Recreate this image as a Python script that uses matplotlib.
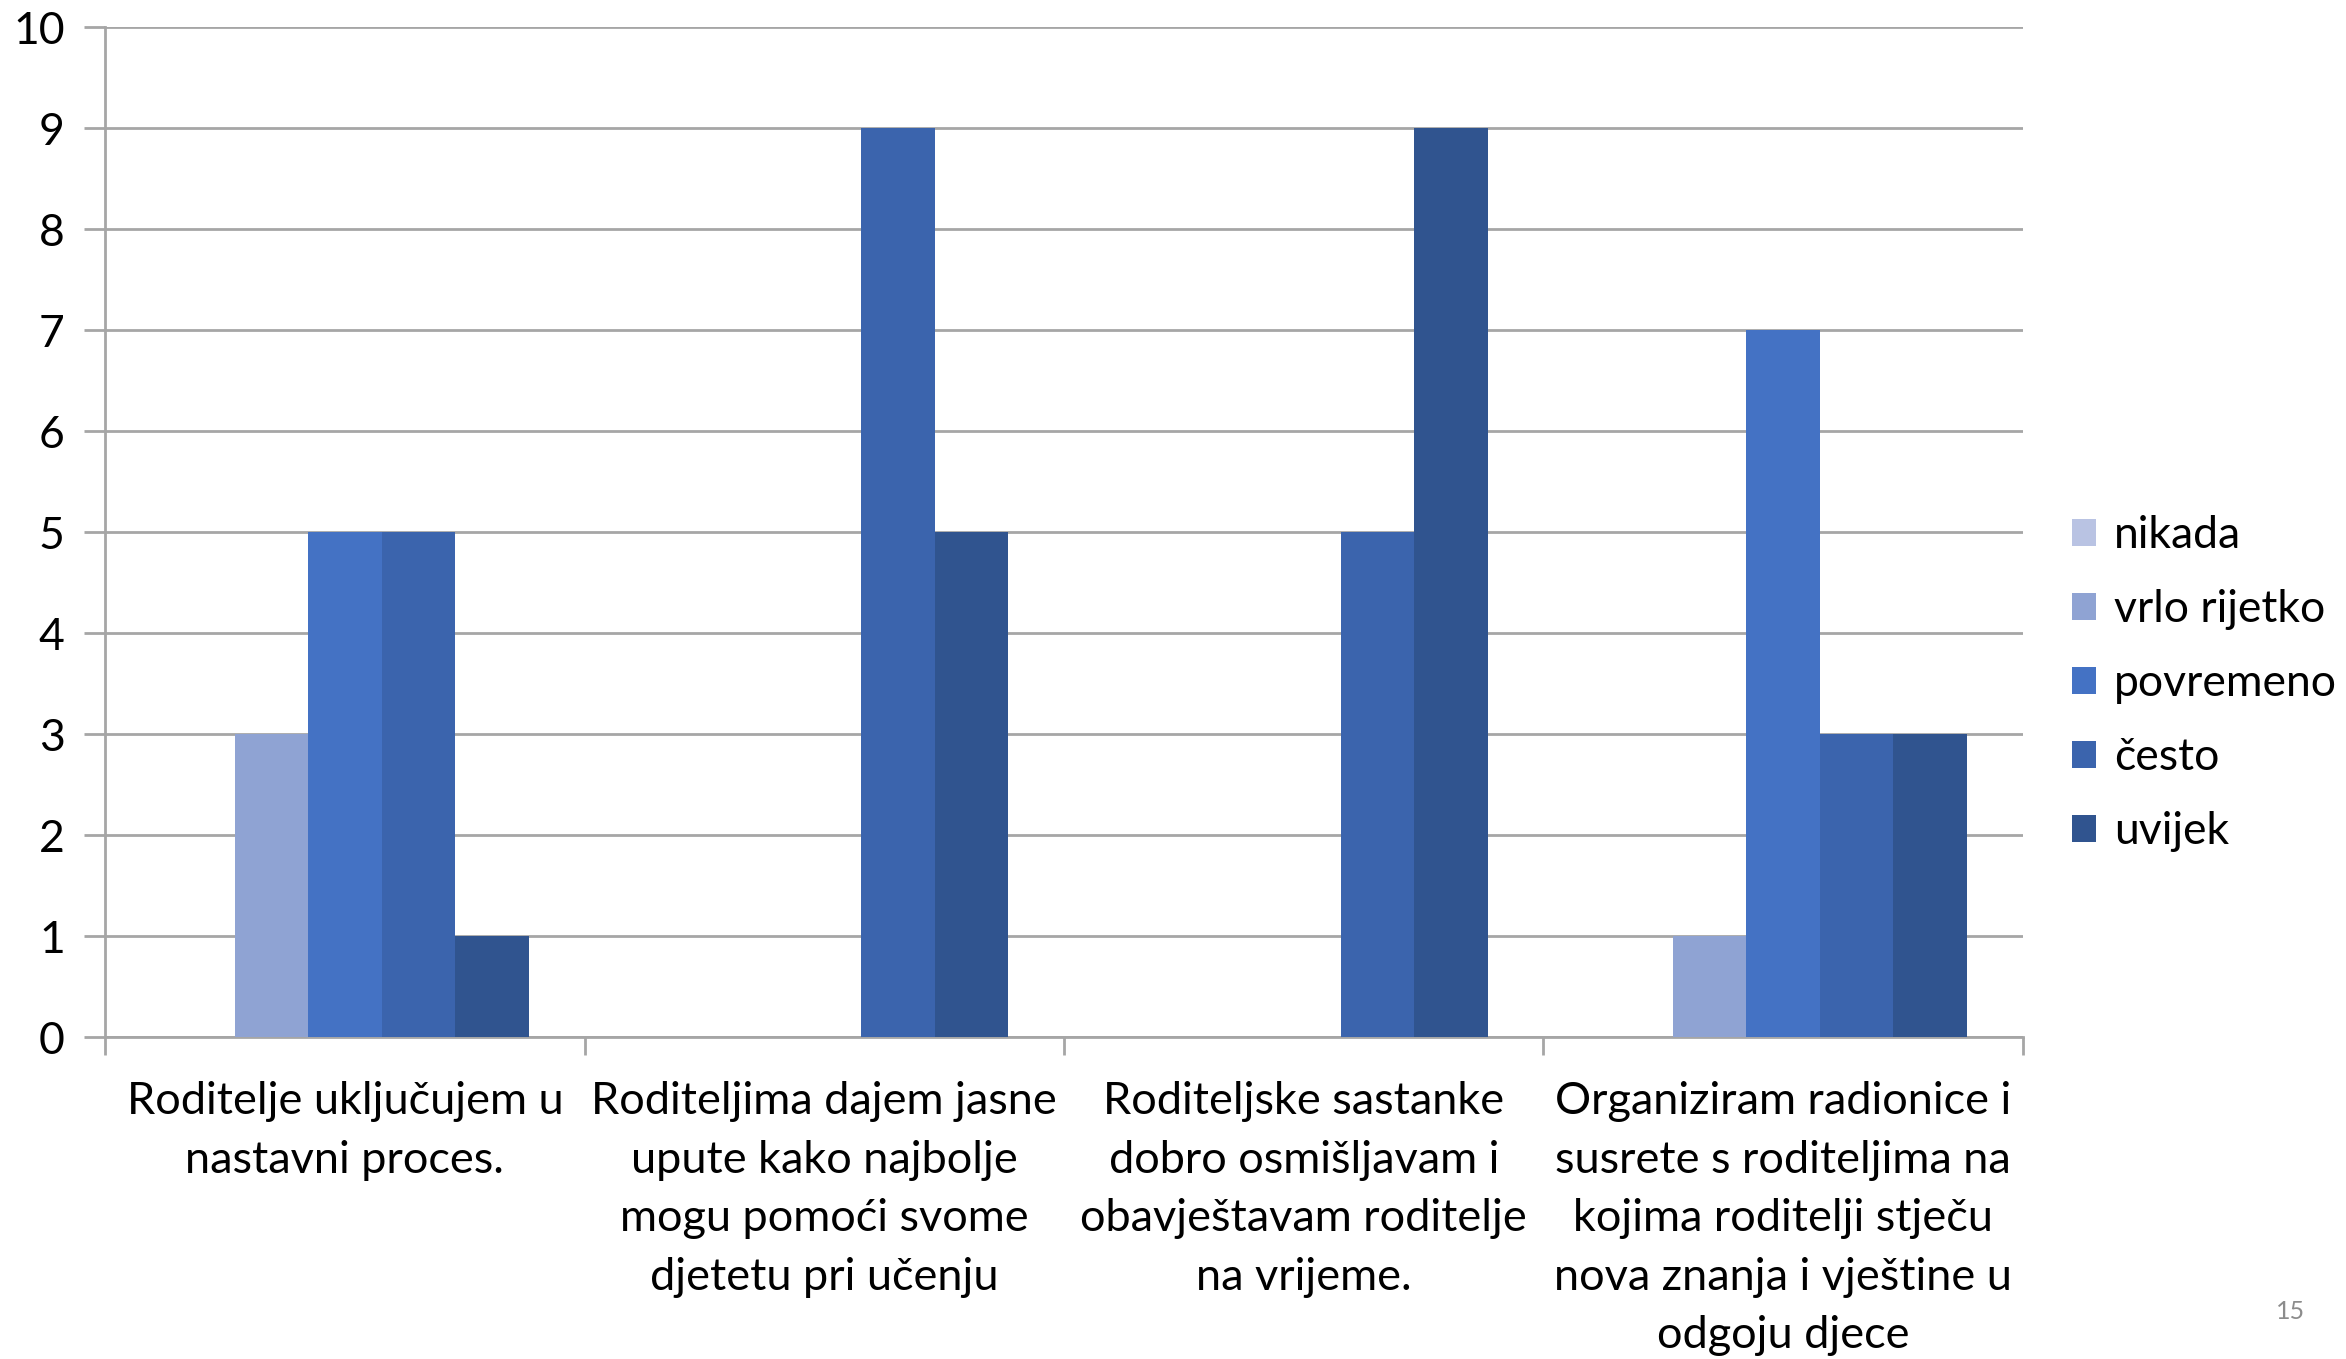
import numpy as np
import matplotlib
matplotlib.use('Agg')
import matplotlib.pyplot as plt

plt.rcParams['font.family'] = ['Lato', 'DejaVu Sans']

# data
categories = ['Roditelje uključujem u\nnastavni proces.',
              'Roditeljima dajem jasne\nupute kako najbolje\nmogu pomoći svome\ndjetetu pri učenju',
              'Roditeljske sastanke\ndobro osmišljavam i\nobavještavam roditelje\nna vrijeme.',
              'Organiziram radionice i\nsusrete s roditeljima na\nkojima roditelji stječu\nnova znanja i vještine u\nodgoju djece']
series_names = ['nikada', 'vrlo rijetko', 'povremeno', 'često', 'uvijek']
nikada = [0, 0, 0, 0]
vrlo_rijetko = [3, 0, 0, 1]
povremeno = [5, 0, 0, 7]
cesto = [5, 9, 5, 3]
uvijek = [1, 5, 9, 3]
colors = ['#B9C3E3', '#8FA3D3', '#4472C4', '#3B64AD', '#30548F']

fig = plt.figure(figsize=(23.46, 13.59), dpi=100)
ax = fig.add_axes([0.0448, 0.2369, 0.8175, 0.7431])

x = np.arange(len(categories))
w = 0.1533
all_series = [nikada, vrlo_rijetko, povremeno, cesto, uvijek]
for i, (vals, name, c) in enumerate(zip(all_series, series_names, colors)):
    ax.bar(x + (i - 2) * w, vals, w, color=c, label=name, zorder=3)

ax.set_xlim(-0.5, 3.5)
ax.set_ylim(0, 10)
ax.set_yticks(range(0, 11))
ax.yaxis.grid(True, color='#A6A6A6', linewidth=2, zorder=0)
ax.tick_params(axis='y', labelsize=32, length=15, width=2, color='#A6A6A6', pad=14)

ax.set_xticks(np.arange(-0.5, 4.0, 1.0))
ax.set_xticklabels([])
ax.tick_params(axis='x', which='major', length=13, width=2, color='#A6A6A6')
ax.set_xticks(x, minor=True)
ax.set_xticklabels(categories, minor=True, fontsize=32.5, linespacing=1.53)
ax.tick_params(axis='x', which='minor', length=0, pad=32)

for s in ['top', 'right']:
    ax.spines[s].set_visible(False)
for s in ['left', 'bottom']:
    ax.spines[s].set_color('#A6A6A6')
    ax.spines[s].set_linewidth(2)

ax.legend(loc='center left', bbox_to_anchor=(0.8832, 0.4969), bbox_transform=fig.transFigure,
          frameon=False, fontsize=32, borderpad=0, borderaxespad=0,
          handlelength=0.55, handleheight=0.55, handletextpad=0.4, labelspacing=0.74)

fig.text(0.9765, 0.035, '15', fontsize=18, color='#8C8C8C', ha='center', va='center')

fig.savefig('out.png', dpi=100)
